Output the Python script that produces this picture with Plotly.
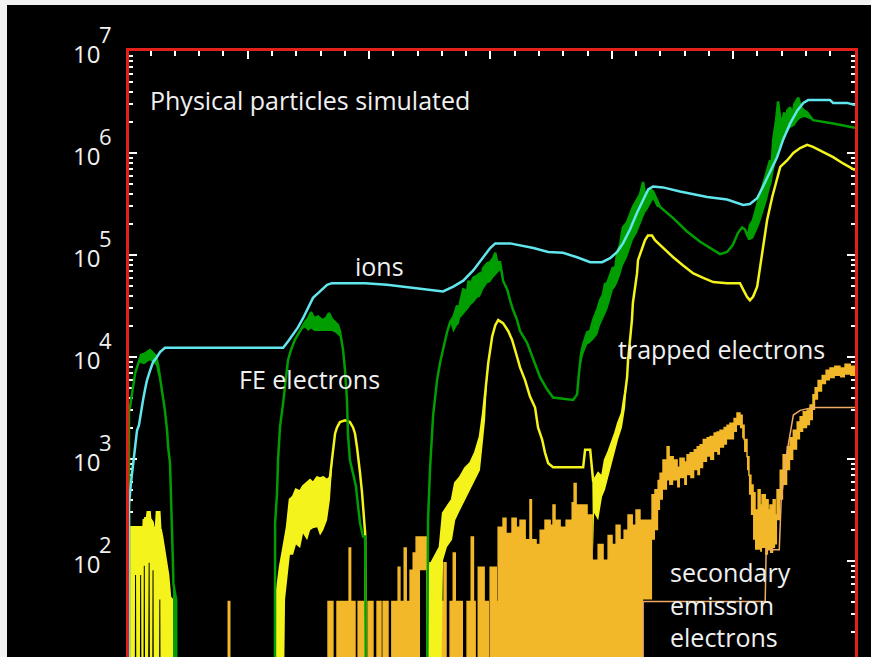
import plotly.graph_objects as go

# ---------------- data (time in arbitrary units 0..30, particle numbers) ----------------
ions_t = [0.11, 0.11, 0.19, 0.28, 0.36, 0.44, 0.52, 0.61, 0.69, 0.77,
          0.85, 0.98, 1.10, 1.26, 1.39, 1.59, 6.46, 6.66, 6.87, 7.07,
          7.28, 7.49, 7.69, 7.98, 8.27, 8.47, 9.84, 10.74, 11.61, 12.51,
          13.05, 13.47, 13.88, 14.30, 14.70, 14.99, 15.20, 15.81, 16.77, 17.38,
          17.99, 18.57, 19.11, 19.60, 19.93, 20.22, 20.46, 20.75, 21.04, 21.29,
          21.50, 21.70, 22.11, 22.81, 23.93, 24.75, 25.41, 25.69, 25.99, 26.23,
          26.52, 26.81, 27.06, 27.35, 27.64, 27.89, 28.09, 28.99, 29.12, 29.69,
          30.02]
ions_n = [5, 355, 580, 910, 1430, 1900, 2150, 3000, 3800, 4800,
          5900, 7400, 8900, 1.0e4, 1.12e4, 1.23e4, 1.23e4, 1.42e4, 1.65e4, 1.95e4,
          2.4e4, 3.0e4, 3.8e4, 4.4e4, 5.1e4, 5.3e4, 5.3e4, 5.1e4, 4.8e4, 4.5e4,
          4.4e4, 4.9e4, 5.6e4, 7.1e4, 9.5e4, 1.17e5, 1.3e5, 1.3e5, 1.17e5, 1.07e5,
          1.05e5, 9.5e4, 8.5e4, 8.5e4, 9.3e4, 1.07e5, 1.3e5, 1.78e5, 2.6e5, 3.5e5,
          4.4e5, 4.7e5, 4.6e5, 4.2e5, 3.7e5, 3.5e5, 3.1e5, 3.16e5, 3.6e5, 4.7e5,
          6.5e5, 9.1e5, 1.35e6, 1.95e6, 2.6e6, 3.1e6, 3.3e6, 3.3e6, 3.1e6, 3.1e6,
          2.95e6]

# FE electrons: noisy signal given as upper / lower envelope
fe_t = [0.11, 0.11, 0.15, 0.24, 0.28, 0.36, 0.44, 0.52, 0.61, 0.73,
        0.85, 0.98, 1.10, 1.22, 1.31, 1.39, 1.47, 1.51, 1.59, 1.68,
        1.72, 1.80, 1.84, 1.88, 1.92, 1.94, 2.05, 2.07,
        6.12, 6.13, 6.21, 6.25, 6.33, 6.46, 6.54, 6.66, 6.78, 6.95,
        7.16, 7.36, 7.49, 7.61, 7.74, 7.90, 8.07, 8.23, 8.35, 8.47,
        8.60, 8.72, 8.80, 8.89, 8.93, 9.01, 9.09, 9.13, 9.21, 9.34,
        9.46, 9.55, 9.63, 9.75, 9.84, 9.88,
        12.38, 12.43, 12.51, 12.64, 12.80, 12.92, 13.05, 13.21, 13.34, 13.47,
        13.63, 13.69, 13.75, 13.88, 14.04, 14.10, 14.17, 14.30, 14.46, 14.57, 14.63, 14.70, 14.87,
        14.99, 15.11, 15.20, 15.28, 15.40, 15.52, 15.69, 15.81, 15.93, 16.10,
        16.22, 16.51, 16.77, 17.05, 17.34, 17.58, 18.41, 18.57, 18.65, 18.74,
        18.82, 18.98, 19.11, 19.23, 19.40, 19.52, 19.64, 19.72, 19.81, 19.93, 20.05, 20.13,
        20.22, 20.34, 20.46, 20.63, 20.75, 20.87, 21.04, 21.16, 21.29, 21.37,
        21.45, 21.58, 21.70, 21.86, 21.99, 22.53, 23.10, 23.64, 24.18, 24.46,
        24.75, 24.99, 25.20, 25.37, 25.49, 25.61, 25.69, 25.82, 25.99, 26.11,
        26.23, 26.40, 26.52, 26.58, 26.65, 26.77, 26.85, 26.98, 27.10, 27.16, 27.23, 27.35, 27.44,
        27.52, 27.68, 27.80, 27.93, 28.05, 28.29, 29.12, 30.02]
fe_hi = [1, 3000, 3200, 4500, 5600, 6900, 7900, 9300, 10500, 10700,
         11200, 11700, 11000, 10200, 8300, 6200, 5000, 4100, 3000, 1900,
         1320, 910, 500, 186, 95, 60, 42, 1,
         1, 235, 470, 980, 2050, 3550, 5100, 9300, 11700, 14800,
         18000, 22000, 24000, 27500, 24000, 25000, 23000, 24000, 27000, 23500,
         22000, 20500, 18000, 13800, 11700, 7400, 3800, 1780, 980, 720,
         540, 340, 235, 174, 174, 1,
         1, 250, 780, 2700, 5900, 8700, 12300, 17400, 22000, 24500,
         32000, 27000, 34000, 46000, 44000, 56000, 51000, 60000, 63000, 66000, 58000, 74000, 83000,
         85000, 93000, 105000, 85000, 85000, 56000, 46000, 36000, 29000, 23000,
         18000, 13800, 9300, 6300, 4800, 4000, 3800, 4300, 7000, 11000,
         13200, 17400, 18000, 23000, 29000, 36000, 41000, 52000, 53000, 63000, 76000, 70000,
         105000, 126000, 186000, 210000, 245000, 295000, 350000, 390000, 520000, 390000,
         410000, 440000, 420000, 350000, 295000, 230000, 170000, 135000, 112000, 102000,
         107000, 126000, 165000, 186000, 178000, 150000, 195000, 220000, 310000, 390000,
         470000, 680000, 850000, 700000, 1350000, 2100000, 3200000, 1850000, 2500000, 2000000, 2600000, 2800000, 2300000,
         3000000, 3500000, 2800000, 2600000, 2500000, 2100000, 1950000, 1770000]
fe_lo = [1, 3000, 3200, 4500, 5600, 6900, 7900, 8900, 8700, 8500,
         8900, 9300, 8900, 8300, 6600, 6200, 5000, 4100, 3000, 1900,
         1320, 910, 500, 186, 95, 1, 1, 1,
         1, 235, 470, 980, 2050, 3550, 5100, 9300, 11700, 14800,
         18000, 19500, 18000, 19000, 18000, 18000, 17800, 17800, 18000, 18000,
         17400, 16500, 15800, 13800, 11700, 7400, 3800, 1780, 980, 720,
         540, 340, 235, 174, 174, 1,
         1, 250, 780, 2700, 5900, 8700, 12300, 17400, 22000, 17400,
         20500, 21000, 24000, 26000, 29000, 30000, 32000, 34000, 38000, 39000, 42000, 46000, 53000,
         54000, 60000, 63000, 65000, 71000, 56000, 46000, 36000, 29000, 23000,
         18000, 13800, 9300, 6300, 4800, 4000, 3800, 4300, 7000, 9000,
         10500, 13200, 13800, 14800, 16500, 20500, 24000, 26000, 29000, 36000, 46000, 48000,
         53000, 63000, 79000, 95000, 117000, 140000, 165000, 195000, 230000, 260000,
         275000, 310000, 350000, 295000, 295000, 230000, 170000, 135000, 112000, 102000,
         107000, 126000, 165000, 186000, 178000, 140000, 140000, 145000, 178000, 210000,
         260000, 350000, 460000, 500000, 630000, 850000, 1070000, 1200000, 1350000, 1500000, 1600000, 1770000, 1800000,
         1850000, 2100000, 2200000, 2250000, 2200000, 2100000, 1950000, 1770000]

# trapped electrons (upper / lower envelope)
trap_t = [0.11, 0.13, 0.34, 0.36, 0.40, 0.42, 0.46, 0.55, 0.57, 0.61,
          0.63, 0.70, 0.72, 0.76, 0.78, 0.85, 0.88, 0.92, 0.96, 0.98,
          1.06, 1.08, 1.12, 1.14, 1.22, 1.26, 1.34, 1.36, 1.40, 1.42,
          1.47, 1.55, 1.64, 1.72, 1.80, 1.88, 1.92,
          6.17, 6.17, 6.33, 6.46, 6.54, 6.62, 6.74, 6.87, 6.99, 7.16,
          7.28, 7.45, 7.57, 7.69, 7.86, 7.98, 8.11, 8.27, 8.39, 8.47,
          8.51, 8.60, 8.68, 8.80, 9.01, 9.21, 9.34, 9.42, 9.50, 9.55,
          9.63, 9.71, 9.75, 9.84, 9.88,
          12.41, 12.41, 12.80, 12.92, 13.05, 13.21, 13.42, 13.55, 13.75, 13.96,
          14.17, 14.37, 14.57, 14.70, 14.78, 14.87, 14.91, 15.07, 15.20, 15.32,
          15.52, 15.73, 15.89, 16.10, 16.22, 16.43, 16.63, 16.84, 16.96, 17.13,
          17.25, 17.38, 17.58, 18.82, 18.90, 19.11, 19.19, 19.23, 19.27, 19.44,
          19.60, 19.72, 19.85, 20.01, 20.14, 20.26, 20.42, 20.55, 20.63, 20.67,
          20.75, 20.83, 20.87, 20.96, 21.04, 21.08, 21.25, 21.37, 21.49, 21.66,
          21.78, 22.11, 22.53, 22.94, 23.36, 23.77, 24.18, 24.75, 25.28, 25.41,
          25.57, 25.69, 25.82, 25.99, 26.11, 26.23, 26.40, 26.61, 26.81, 26.94,
          27.23, 27.48, 27.76, 28.05, 28.29, 28.71, 29.12, 29.53, 30.02]
trap_hi = [1, 214, 214, 214, 214, 137, 214, 214, 214, 214,
           180, 178, 251, 251, 263, 263, 300, 300, 300, 260,
           240, 240, 209, 209, 209, 300, 300, 300, 200, 200,
           174, 129, 96, 73, 44, 42, 1,
           1, 42, 87, 129, 162, 214, 400, 427, 500, 479,
           540, 580, 620, 580, 660, 646, 660, 620, 660, 977,
           1230, 1780, 2040, 2300, 2400, 2300, 2040, 1780, 1320, 977,
           724, 468, 340, 186, 1,
           1, 81, 120, 137, 295, 340, 400, 580, 660, 813,
           910, 1150, 1660, 2820, 4470, 6300, 8700, 15800, 20500, 23000,
           21500, 18000, 14800, 10000, 7900, 5900, 4100, 3200, 2040, 1550,
           1150, 910, 830, 830, 1230, 1230, 830, 617, 617, 724,
           660, 977, 1150, 1430, 1780, 2240, 2820, 4470, 6300, 9300,
           13800, 23000, 34000, 49000, 66000, 89000, 117000, 140000, 155000, 155000,
           140000, 117000, 95000, 79000, 66000, 59600, 54300, 53000, 53000, 46000,
           39000, 36000, 39000, 49000, 76000, 130000, 220000, 370000, 550000, 730000,
           850000, 1000000, 1120000, 1200000, 1150000, 1020000, 910000, 790000, 680000]
trap_lo = [1, 1, 1, 73, 73, 1, 1, 1, 73, 73,
           1, 1, 90, 90, 1, 1, 1, 96, 96, 1,
           1, 81, 81, 1, 1, 1, 1, 42, 42, 1,
           1, 1, 1, 1, 1, 1, 1,
           1, 1, 1, 1, 42, 65, 115, 115, 145, 134,
           186, 160, 200, 209, 214, 178, 200, 251, 400, 776,
           1230, 1780, 2040, 2300, 2400, 2300, 2040, 1780, 1320, 977,
           724, 468, 340, 186, 1,
           1, 1, 1, 1, 102, 137, 162, 251, 316, 398,
           500, 620, 776, 1550, 2400, 6300, 8700, 15800, 20500, 23000,
           21500, 18000, 14800, 10000, 7900, 5900, 4100, 3200, 2040, 1550,
           1150, 910, 830, 830, 1230, 1230, 830, 129, 295, 251,
           427, 500, 660, 910, 1150, 1550, 2040, 3200, 6300, 9300,
           13800, 23000, 34000, 49000, 66000, 89000, 117000, 140000, 155000, 155000,
           140000, 117000, 95000, 79000, 66000, 59600, 54300, 53000, 53000, 46000,
           39000, 36000, 39000, 49000, 76000, 130000, 220000, 370000, 550000, 730000,
           850000, 1000000, 1120000, 1200000, 1150000, 1020000, 910000, 790000, 680000]

# secondary emission electrons (upper / lower envelope, step signal)
sec_t = [0.11, 4.20, 4.26, 8.31, 8.51, 8.68, 9.18, 9.24, 9.42, 9.55,
         9.84, 9.96, 10.16, 10.33, 10.49, 10.58, 10.78, 10.94, 11.20, 11.27,
         11.45, 11.53, 11.69, 11.82, 11.94, 12.10, 12.39, 12.55, 12.80, 12.84,
         13.09, 13.17, 13.34, 13.47, 13.55, 13.84, 14.04, 14.21, 14.30, 14.37,
         14.50, 14.74, 14.91, 14.99, 15.24, 15.32, 15.52, 15.64, 15.89, 16.06,
         16.22, 16.43, 16.63, 16.69, 16.88, 17.05, 17.25, 17.46, 17.58, 17.66,
         17.87, 18.12, 18.37, 18.45, 18.53, 18.78, 18.98, 19.19, 19.44, 19.64,
         19.85, 20.01, 20.18, 20.34, 20.51, 20.67, 20.84, 21.00, 21.16, 21.29,
         21.66, 21.78, 21.91, 21.99, 22.11, 22.28, 22.36, 22.53, 22.69, 22.81,
         22.98, 23.10, 23.23, 23.40, 23.52, 23.64, 23.77, 23.93, 24.05, 24.22,
         24.34, 24.46, 24.63, 24.75, 24.87, 25.04, 25.16, 25.28, 25.37, 25.45,
         25.57, 25.65, 25.73, 25.82, 25.90, 26.03, 26.11, 26.19, 26.32, 26.44,
         26.52, 26.65, 26.73, 26.81, 26.94, 27.06, 27.23, 27.35, 27.48, 27.64,
         27.76, 27.89, 28.05, 28.17, 28.29, 28.38, 28.50, 28.67, 28.83, 28.99,
         29.19, 29.40, 29.61, 29.82, 30.02]
sec_hi = [1, 40, 1, 40, 1, 40, 134, 40, 1, 40,
          1, 40, 1, 40, 1, 40, 1, 40, 87, 40,
          134, 40, 81, 120, 172, 172, 96, 40, 1, 40,
          96, 1, 40, 120, 40, 1, 40, 172, 40, 1,
          87, 40, 1, 87, 40, 214, 263, 186, 263, 214,
          251, 162, 398, 162, 145, 200, 251, 224, 355, 251,
          214, 251, 372, 575, 355, 355, 282, 102, 145, 102,
          178, 145, 224, 162, 200, 282, 224, 316, 251, 251,
          447, 500, 617, 724, 977, 1320, 1050, 977, 832, 1020,
          933, 1100, 1150, 1230, 1320, 1380, 1550, 1620, 1660, 1800,
          1840, 1910, 2040, 2140, 2240, 2500, 2820, 2690, 2140, 1550,
          1050, 692, 556, 468, 316, 500, 355, 447, 398, 316,
          355, 398, 282, 500, 776, 1100, 1320, 1620, 1910, 2300,
          2600, 2900, 3020, 3390, 4270, 5000, 5900, 6600, 7400, 7800,
          8100, 7800, 8500, 8100, 7900]
sec_lo = [1, 1, 1, 1, 1, 1, 1, 1, 1, 1,
          1, 1, 1, 1, 1, 1, 1, 1, 1, 1,
          1, 1, 1, 1, 1, 81, 1, 1, 1, 1,
          1, 1, 1, 1, 1, 1, 1, 1, 1, 1,
          1, 1, 1, 1, 1, 1, 1, 1, 1, 1,
          1, 1, 1, 1, 1, 1, 1, 1, 1, 1,
          1, 1, 1, 1, 1, 1, 1, 1, 1, 1,
          1, 1, 1, 1, 1, 1, 1, 1, 1, 42,
          162, 200, 316, 398, 500, 617, 556, 617, 525, 646,
          556, 692, 646, 776, 692, 813, 933, 1050, 977, 1170,
          1100, 1290, 1380, 1550, 1550, 1840, 2140, 2000, 1600, 1170,
          776, 447, 282, 162, 129, 129, 123, 134, 115, 129,
          120, 134, 145, 251, 398, 556, 776, 977, 1230, 1550,
          1840, 2000, 2140, 2400, 3020, 3800, 4570, 5400, 5900, 6200,
          6500, 6300, 6700, 6500, 6300]

# thin line (secondary emission, second curve)
sec2_t = [21.29, 21.29, 26.32, 26.36, 26.90, 26.98, 27.20, 27.48, 27.76, 28.29, 30.02]
sec2_n = [1, 40, 40, 129, 129, 400, 1100, 2700, 3000, 3200, 3200]

for a, b in [(ions_t, ions_n), (fe_t, fe_hi), (fe_t, fe_lo), (trap_t, trap_hi),
             (trap_t, trap_lo), (sec_t, sec_hi), (sec_t, sec_lo), (sec2_t, sec2_n)]:
    assert len(a) == len(b), (len(a), len(b))

X_RANGE = [0.11, 30.02]
Y_LOG_RANGE = [1.059, 7.0]
Y_DECADES = [1, 2, 3, 4, 5, 6, 7]
Y_TICK_BASE = "10"
Y_TICK_EXP = ["", "2", "3", "4", "5", "6", "7"]

TITLE_TEXT = "Physical particles simulated"
LABELS = ["ions", "FE electrons", "trapped electrons", "secondary<br>emission<br>electrons"]

# ---------------- style ----------------
CYAN = "#62e6ee"
GREEN = "#009e00"
YELLOW = "#f4f41c"
ORANGE = "#f2b829"
ORANGE_THIN = "#eeaa66"
RED = "#e2201c"
FONT = "Open Sans"

fig = go.Figure()


def band(t, hi, lo, color, shape, width):
    fig.add_trace(go.Scatter(x=t, y=lo, mode="lines",
                             line=dict(width=0, color=color, shape=shape),
                             hoverinfo="skip", showlegend=False))
    fig.add_trace(go.Scatter(x=t, y=hi, mode="lines",
                             line=dict(width=width, color=color, shape=shape),
                             fill="tonexty", fillcolor=color,
                             hoverinfo="skip", showlegend=False))


band(sec_t, sec_hi, sec_lo, ORANGE, "hv", 1.5)
fig.add_trace(go.Scatter(x=sec2_t, y=sec2_n, mode="lines",
                         line=dict(width=1.5, color=ORANGE_THIN),
                         hoverinfo="skip", showlegend=False))
band(trap_t, trap_hi, trap_lo, YELLOW, "linear", 2.5)
band(fe_t, fe_hi, fe_lo, GREEN, "linear", 2.5)
fig.add_trace(go.Scatter(x=ions_t, y=ions_n, mode="lines",
                         line=dict(width=2.5, color=CYAN),
                         hoverinfo="skip", showlegend=False))

# ---------------- axes ----------------
minor_vals = [m * 10 ** k for k in range(1, 7) for m in range(2, 10)]

fig.update_xaxes(range=X_RANGE, side="top", showline=True, linecolor=RED, linewidth=3,
                 ticks="inside", tick0=0, dtick=5, ticklen=8, tickwidth=2, tickcolor="white",
                 minor=dict(ticks="inside", tick0=0, dtick=1, ticklen=5, tickwidth=2,
                            tickcolor="white"),
                 showticklabels=False, showgrid=False, zeroline=False, layer="below traces")
fig.update_yaxes(type="log", range=Y_LOG_RANGE, showline=True, mirror="ticks",
                 linecolor=RED, linewidth=3,
                 ticks="inside", tickvals=[10 ** k for k in Y_DECADES], ticklen=8,
                 tickwidth=2, tickcolor="white",
                 minor=dict(tickvals=minor_vals, ticks="inside", ticklen=4, tickwidth=1.5,
                            tickcolor="white"),
                 showticklabels=False, showgrid=False, zeroline=False, layer="below traces")

# plot area in pixels: x 129..855, y 51..657
PL, PR, PT, PB = 129, 855, 51, 657
W, H = PR - PL, PB - PT


def px_x(p):
    return (p - PL) / W


def px_y(p):
    return (PB - p) / H


annotations = []
for k, e in zip(Y_DECADES, Y_TICK_EXP):
    yp = (k - Y_LOG_RANGE[0]) / (Y_LOG_RANGE[1] - Y_LOG_RANGE[0])
    annotations.append(dict(text=Y_TICK_BASE, xref="paper", yref="paper", x=px_x(102), y=yp,
                            xanchor="right", yanchor="middle", yshift=-2, showarrow=False,
                            font=dict(family=FONT, size=24, color="#f0f0f0")))
    if e:
        annotations.append(dict(text=e, xref="paper", yref="paper", x=px_x(97), y=yp,
                                xanchor="left", yanchor="middle", yshift=17, showarrow=False,
                                font=dict(family=FONT, size=22, color="#f0f0f0")))

text_pos = [(TITLE_TEXT, 148, 100), (LABELS[0], 353, 266), (LABELS[1], 237, 379),
            (LABELS[2], 616, 349), (LABELS[3], 668, 604)]
for txt, xp, yp in text_pos:
    annotations.append(dict(text=txt, xref="paper", yref="paper", x=px_x(xp), y=px_y(yp),
                            xanchor="left", yanchor="middle", align="left", showarrow=False,
                            font=dict(family=FONT, size=25, color="#f0f0f0")))

shapes = [
    dict(type="rect", xref="paper", yref="paper", x0=-0.3, x1=1.2, y0=px_y(5), y1=1.3,
         fillcolor="#f2f2f2", line=dict(width=0), layer="above"),
    dict(type="rect", xref="paper", yref="paper", x0=-0.3, x1=px_x(7), y0=-0.3, y1=1.3,
         fillcolor="#f2f2f2", line=dict(width=0), layer="above"),
]

fig.update_layout(width=871, height=657, margin=dict(l=PL, r=871 - PR, t=PT, b=0, pad=0),
                  paper_bgcolor="black", plot_bgcolor="black", showlegend=False,
                  font=dict(family=FONT, color="white"),
                  annotations=annotations, shapes=shapes)

fig.write_html("out.html", config={"displayModeBar": False})
